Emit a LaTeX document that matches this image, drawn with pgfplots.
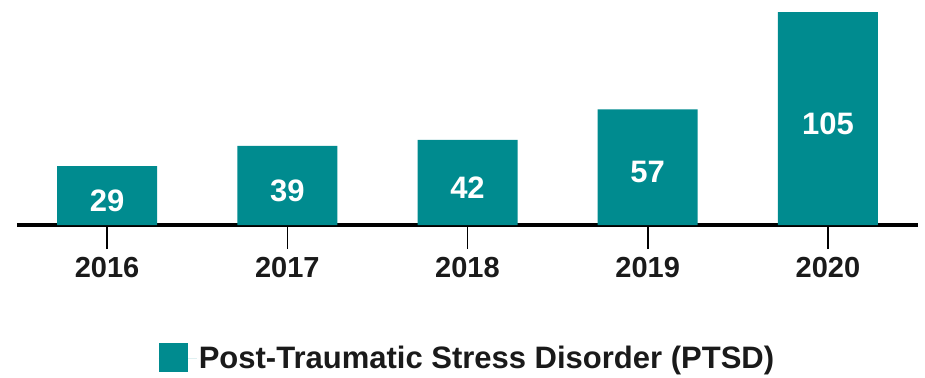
\documentclass[border=0pt]{standalone}
\usepackage{pgfplots}
\pgfplotsset{compat=1.18}
\usepackage{fontspec}
\setmainfont{Liberation Sans}
\definecolor{tealc}{RGB}{0,139,143}
\definecolor{txt}{RGB}{26,26,26}
\begin{document}
\begin{tikzpicture}[x=1pt,y=1pt]
\useasboundingbox (-17pt,-152pt) rectangle (908pt,225pt);
\begin{axis}[
  at={(0pt,0pt)}, anchor=south west,
  scale only axis,
  width=901pt, height=225pt,
  xmin=-0.5, xmax=4.5,
  ymin=0, ymax=111,
  axis y line=none,
  axis x line*=bottom,
  x axis line style={line width=4pt, black},
  xtick={0,1,2,3,4},
  xticklabels={2016,2017,2018,2019,2020},
  tick align=outside,
  major tick length=24pt,
  xtick style={line width=1.6pt, black},
  x tick label style={font=\fontsize{29}{32}\selectfont\bfseries, text=txt, yshift=-5pt},
  /pgf/number format/assume math mode=true,
  clip=false,
  legend style={at={(0.5,-0.59)}, anchor=center, draw=none, fill=none,
    font=\fontsize{31}{34}\selectfont\bfseries, text=txt},
  legend cell align=left,
  legend image code/.code={\fill[tealc] (0pt,-14pt) rectangle (29pt,15pt);
    \path (0pt,0pt) -- (38pt,0pt);},
]
\addplot[ybar, bar width=100pt, bar shift=0pt, fill=tealc, draw=none,
  visualization depends on={y \as \rawy},
  nodes near coords={\pgfmathprintnumber[assume math mode=true]{\pgfplotspointmeta}},
  every node near coord/.append style={anchor=center, text=white,
    font=\fontsize{31}{34}\selectfont\bfseries,
    shift={(axis direction cs:0,{-\rawy/2})}, yshift=-5pt},
] coordinates {(0,29) (1,39) (2,42) (3,57) (4,105)};
\addlegendentry{Post-Traumatic Stress Disorder (PTSD)}
\end{axis}
\end{tikzpicture}
\end{document}
